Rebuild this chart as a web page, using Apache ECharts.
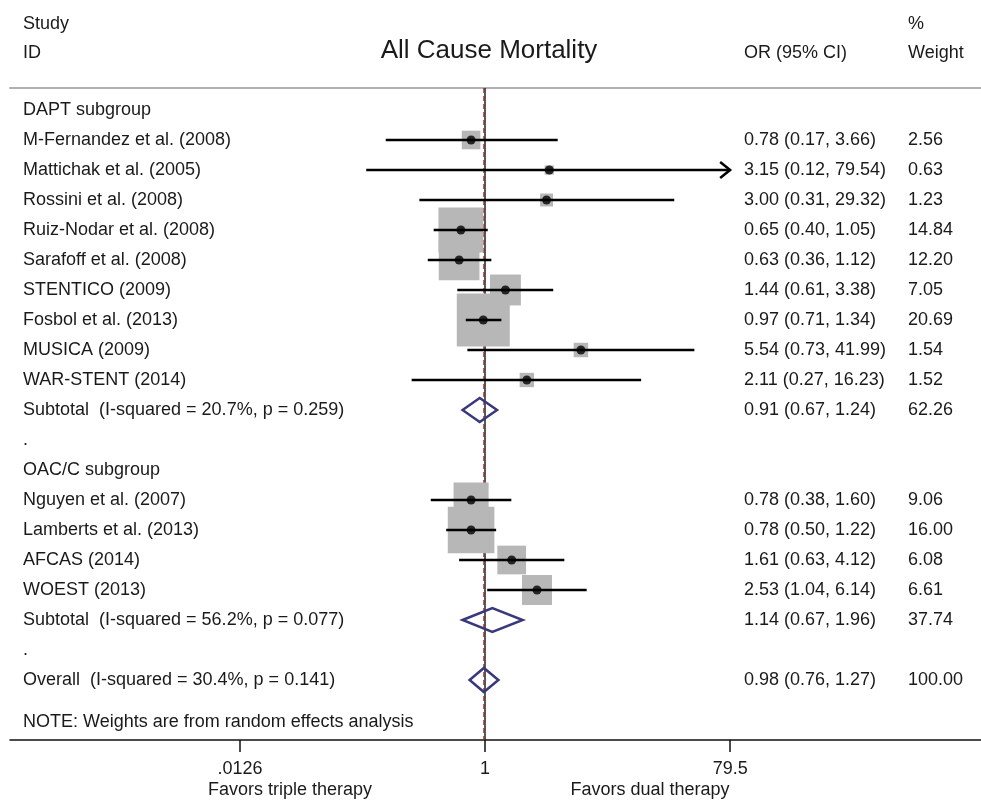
<!DOCTYPE html>
<html>
<head>
<meta charset="utf-8">
<script src="https://cdn.jsdelivr.net/npm/echarts@6/dist/echarts.min.js"></script>
<style>
  html, body { margin: 0; padding: 0; background: #fff; }
  #chart { width: 981px; height: 801px; }
</style>
</head>
<body>
<div id="chart"></div>
<script>
// study-level data
const studyNames = [
  'M-Fernandez et al. (2008)', 'Mattichak et al. (2005)', 'Rossini et al. (2008)',
  'Ruiz-Nodar et al. (2008)', 'Sarafoff et al. (2008)', 'STENTICO (2009)',
  'Fosbol et al. (2013)', 'MUSICA (2009)', 'WAR-STENT (2014)',
  'Nguyen et al. (2007)', 'Lamberts et al. (2013)', 'AFCAS (2014)', 'WOEST (2013)'
];
const studyRows = [1, 2, 3, 4, 5, 6, 7, 8, 9, 13, 14, 15, 16];
const studyOR = [0.78, 3.15, 3.00, 0.65, 0.63, 1.44, 0.97, 5.54, 2.11, 0.78, 0.78, 1.61, 2.53];
const studyLo = [0.17, 0.12, 0.31, 0.40, 0.36, 0.61, 0.71, 0.73, 0.27, 0.38, 0.50, 0.63, 1.04];
const studyHi = [3.66, 79.54, 29.32, 1.05, 1.12, 3.38, 1.34, 41.99, 16.23, 1.60, 1.22, 4.12, 6.14];
const studyWeight = [2.56, 0.63, 1.23, 14.84, 12.20, 7.05, 20.69, 1.54, 1.52, 9.06, 16.00, 6.08, 6.61];

// pooled estimates
const poolNames = [
  'Subtotal  (I-squared = 20.7%, p = 0.259)',
  'Subtotal  (I-squared = 56.2%, p = 0.077)',
  'Overall  (I-squared = 30.4%, p = 0.141)'
];
const poolRows = [10, 17, 19];
const poolOR = [0.91, 1.14, 0.98];
const poolLo = [0.67, 0.67, 0.76];
const poolHi = [1.24, 1.96, 1.27];
const poolWeight = [62.26, 37.74, 100.00];

// other text rows
const extraRows = [
  { y: 0, label: 'DAPT subgroup' },
  { y: 11, label: '.' },
  { y: 12, label: 'OAC/C subgroup' },
  { y: 18, label: '.' },
  { y: 20.4, label: 'NOTE: Weights are from random effects analysis' }
];

const tickValues = [0.0126, 1, 79.5];
const nullValue = 1;
const overallValue = 0.98;

const FONT = "'Liberation Sans', Arial, sans-serif";
const TXT = '#1a1a1a';
const fmt = v => v.toFixed(2);

const tableRows = [];
extraRows.forEach(r => tableRows.push({ y: r.y, label: r.label, ci: '', w: '' }));
studyNames.forEach((n, i) => tableRows.push({
  y: studyRows[i], label: n,
  ci: fmt(studyOR[i]) + ' (' + fmt(studyLo[i]) + ', ' + fmt(studyHi[i]) + ')',
  w: fmt(studyWeight[i])
}));
poolNames.forEach((n, i) => tableRows.push({
  y: poolRows[i], label: n,
  ci: fmt(poolOR[i]) + ' (' + fmt(poolLo[i]) + ', ' + fmt(poolHi[i]) + ')',
  w: fmt(poolWeight[i])
}));

// axis geometry: 1 sits at x=485, ~129px per decade
const gridLeft = 10, gridWidth = 971;
const pxPerDecade = 129;
const logMin = -(485 - gridLeft) / pxPerDecade;
const logMax = logMin + gridWidth / pxPerDecade;
const axisLo = tickValues[0], axisHi = tickValues[2];
const yMin = -0.733, yMax = 21.0;

const COL_CI = 744, COL_W = 908;

const chart = echarts.init(document.getElementById('chart'));

const option = {
  animation: false,
  title: {
    text: 'All Cause Mortality',
    left: 484, top: 33, textAlign: 'center',
    textStyle: { fontFamily: FONT, fontSize: 26, fontWeight: 'normal', color: TXT }
  },
  graphic: [
    { type: 'text', x: 23, y: 24, style: { text: 'Study', font: '18px ' + FONT, fill: TXT, verticalAlign: 'middle' } },
    { type: 'text', x: 23, y: 53, style: { text: 'ID', font: '18px ' + FONT, fill: TXT, verticalAlign: 'middle' } },
    { type: 'text', x: COL_CI, y: 53, style: { text: 'OR (95% CI)', font: '18px ' + FONT, fill: TXT, verticalAlign: 'middle' } },
    { type: 'text', x: COL_W, y: 24, style: { text: '%', font: '18px ' + FONT, fill: TXT, verticalAlign: 'middle' } },
    { type: 'text', x: COL_W, y: 53, style: { text: 'Weight', font: '18px ' + FONT, fill: TXT, verticalAlign: 'middle' } },
    { type: 'text', x: 290, y: 790, style: { text: 'Favors triple therapy', font: '18px ' + FONT, fill: TXT, align: 'center', verticalAlign: 'middle' } },
    { type: 'text', x: 650, y: 790, style: { text: 'Favors dual therapy', font: '18px ' + FONT, fill: TXT, align: 'center', verticalAlign: 'middle' } }
  ],
  grid: { left: gridLeft, width: gridWidth, top: 88, bottom: 61 },
  xAxis: [
    {
      type: 'log', logBase: 10,
      min: Math.pow(10, logMin), max: Math.pow(10, logMax),
      axisLine: { onZero: false, lineStyle: { color: '#111', width: 1.5 } },
      axisTick: { show: true, customValues: tickValues, length: 12, lineStyle: { color: '#111', width: 1.5 } },
      axisLabel: {
        customValues: tickValues, margin: 20,
        fontFamily: FONT, fontSize: 18, color: TXT,
        formatter: v => (v < 1 ? String(v).replace(/^0/, '') : String(v))
      },
      splitLine: { show: false }
    },
    {
      type: 'log', logBase: 10, position: 'top',
      min: Math.pow(10, logMin), max: Math.pow(10, logMax),
      axisLine: { onZero: false, lineStyle: { color: '#b0b0b0', width: 2 } },
      axisTick: { show: false }, axisLabel: { show: false }, splitLine: { show: false }
    }
  ],
  yAxis: {
    type: 'value', inverse: true, min: yMin, max: yMax, show: false
  },
  series: [
    {
      // reference lines: null effect and overall estimate
      type: 'custom', z: 1, clip: false,
      data: [[nullValue, 0], [overallValue, 1]],
      renderItem: (params, api) => {
        const x = api.value(0);
        const top = api.coord([x, yMin]);
        const bot = api.coord([x, yMax]);
        const dashed = api.value(1) === 1;
        return {
          type: 'line',
          shape: { x1: top[0], y1: top[1], x2: bot[0], y2: bot[1] },
          style: dashed
            ? { stroke: '#9b2a2a', lineWidth: 1.2, lineDash: [5, 3] }
            : { stroke: '#222', lineWidth: 1.5 }
        };
      }
    },
    {
      // weight boxes
      type: 'custom', z: 2, clip: false,
      data: studyOR.map((v, i) => [v, studyRows[i], studyWeight[i]]),
      renderItem: (params, api) => {
        const c = api.coord([api.value(0), api.value(1)]);
        const s = 11.65 * Math.sqrt(api.value(2));
        return {
          type: 'rect',
          shape: { x: c[0] - s / 2, y: c[1] - s / 2, width: s, height: s },
          style: { fill: '#b7b7b7' }
        };
      }
    },
    {
      // confidence intervals
      type: 'custom', z: 3, clip: false,
      data: studyLo.map((v, i) => [v, studyHi[i], studyRows[i]]),
      renderItem: (params, api) => {
        const y = api.value(2);
        const lo = Math.max(api.value(0), axisLo);
        const hiRaw = api.value(1);
        const hi = Math.min(hiRaw, axisHi);
        const a = api.coord([lo, y]);
        const b = api.coord([hi, y]);
        const children = [{
          type: 'line',
          shape: { x1: a[0], y1: a[1], x2: b[0], y2: b[1] },
          style: { stroke: '#000', lineWidth: 2.5 }
        }];
        if (hiRaw > axisHi) {
          children.push({
            type: 'polyline',
            shape: { points: [[b[0] - 10, b[1] - 8], [b[0], b[1]], [b[0] - 10, b[1] + 8]] },
            style: { stroke: '#000', lineWidth: 2.5, fill: null }
          });
        }
        return { type: 'group', children };
      }
    },
    {
      type: 'scatter', z: 4,
      symbol: 'circle', symbolSize: 9,
      itemStyle: { color: '#000' },
      data: studyOR.map((v, i) => [v, studyRows[i]])
    },
    {
      // pooled diamonds
      type: 'custom', z: 3, clip: false,
      data: poolOR.map((v, i) => [v, poolLo[i], poolHi[i], poolRows[i]]),
      renderItem: (params, api) => {
        const y = api.value(3);
        const m = api.coord([api.value(0), y]);
        const l = api.coord([api.value(1), y]);
        const r = api.coord([api.value(2), y]);
        const h = 12;
        return {
          type: 'polygon',
          shape: { points: [[l[0], l[1]], [m[0], m[1] - h], [r[0], r[1]], [m[0], m[1] + h]] },
          style: { stroke: '#39387a', lineWidth: 2.5, fill: null }
        };
      }
    },
    {
      // table text
      type: 'custom', z: 5, clip: false, silent: true,
      data: tableRows.map(r => [1, r.y]),
      renderItem: (params, api) => {
        const r = tableRows[params.dataIndex];
        const yPix = api.coord([1, r.y])[1];
        const base = { font: '18px ' + FONT, fill: TXT, verticalAlign: 'middle' };
        return {
          type: 'group',
          children: [
            { type: 'text', x: 23, y: yPix, style: Object.assign({ text: r.label }, base) },
            { type: 'text', x: COL_CI, y: yPix, style: Object.assign({ text: r.ci }, base) },
            { type: 'text', x: COL_W, y: yPix, style: Object.assign({ text: r.w }, base) }
          ]
        };
      }
    }
  ]
};

chart.setOption(option);
window.addEventListener('resize', () => chart.resize());
</script>
</body>
</html>
